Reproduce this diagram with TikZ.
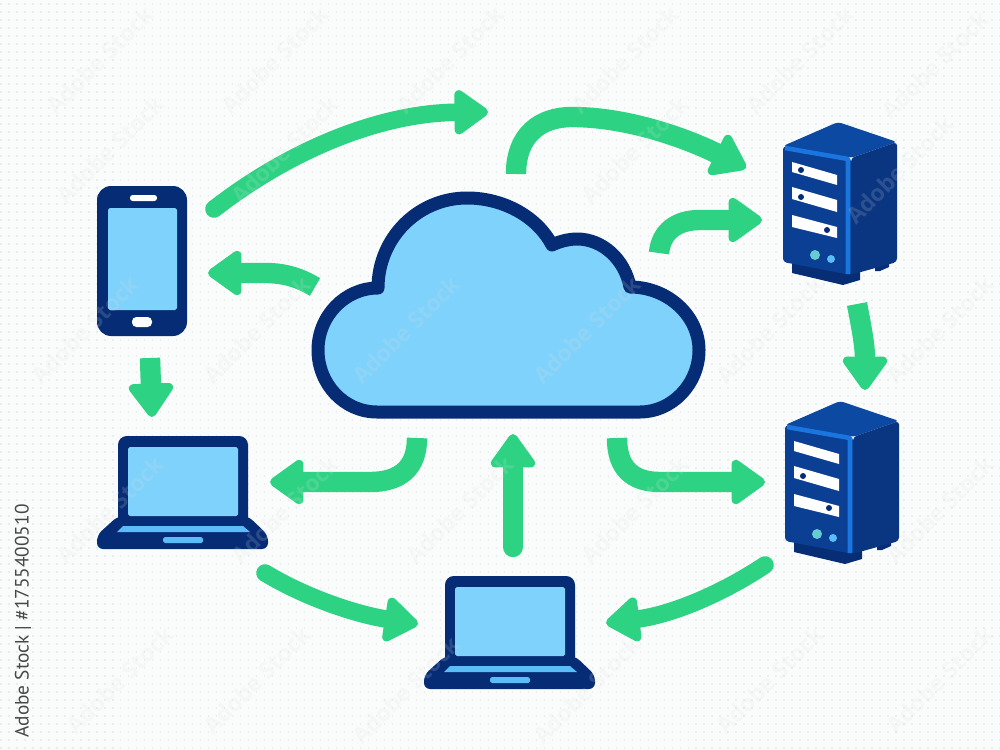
\documentclass[tikz,border=0pt]{standalone}
\usepackage{fontspec}
\setsansfont{Open Sans}
\newfontfamily\stockfont{PT Sans}
\usetikzlibrary{arrows.meta}
\definecolor{paperbg}{HTML}{FAFCFC}
\definecolor{dotgray}{HTML}{E8EDEF}
\definecolor{flowgreen}{HTML}{2DD383}
\definecolor{navy}{HTML}{052C74}
\definecolor{skyblue}{HTML}{7FD2FB}
\definecolor{keyblue}{HTML}{5BBCF8}
\definecolor{frontblue}{HTML}{0A3F94}
\definecolor{sideblue}{HTML}{0A3580}
\definecolor{topblue}{HTML}{0C49A2}
\definecolor{edgeblue}{HTML}{1A76DE}
\definecolor{footblue}{HTML}{072D75}

\tikzset{
    pics/laptop/.style={code={
        \fill[navy, rounded corners=5pt] (0,90) -- (0,0) -- (130,0) -- (130,90) -- cycle;
        \fill[navy, rounded corners=3.5pt] (0,80) -- (130,80) -- (150,99) -- (150,113) -- (-21,113) -- (-21,99) -- cycle;
        \fill[skyblue, rounded corners=1pt] (10,11) rectangle (120,80);
        \fill[keyblue] (-1,96) -- (5,90) -- (125,90) -- (132,96) -- cycle;
        \fill[keyblue, rounded corners=1pt] (45,101) rectangle (85,107);
    }},
    pics/server/.style={code={
        % feet
        \fill[footblue] (9,118) -- (9,127) -- (60,139) -- (77,134) -- (77,120) -- cycle;
        \fill[footblue] (92,118) -- (92,125) -- (97,125) -- (106,121) -- (106,115) -- cycle;
        % body
        \fill[topblue, rounded corners=2pt] (0,0) -- (55,-24) -- (114,-4) -- (68,12) -- cycle;
        \fill[sideblue, rounded corners=2pt] (68,12) -- (114,-4) -- (114,116) -- (67,129) -- cycle;
        \fill[frontblue, rounded corners=2pt] (0,0) -- (68,12) -- (68,129) -- (0,116) -- cycle;
        \draw[edgeblue, line width=2.6pt, line join=round] (2,2) -- (65,13) -- (65,128);
        % drive bays
        \fill[white] (9,16) -- (54,29) -- (54,39) -- (9,26) -- cycle;
        \fill[white] (9,41) -- (54,54) -- (54,66) -- (9,53) -- cycle;
        \fill[white] (9,69) -- (54,81) -- (54,92) -- (9,81) -- cycle;
        % lights
        \fill[cyan!70!green!60!white] (32,109) circle (5);
        \fill[keyblue] (48,113) circle (4);
    }}
}

\begin{document}
\begin{tikzpicture}[
    x=0.02cm, y=-0.02cm,
    dotrow/.style={dotgray, line width=0.9pt, dash pattern=on 0.9pt off 3.65pt},
    stockmark/.style={font=\sffamily\bfseries\fontsize{13}{13}\selectfont, rotate=45, text=gray!25!white, opacity=0.17},
    flow/.style={-{Triangle[length=21pt, width=28.5pt, line width=5pt, round]}, line width=11.6pt, flowgreen},
    thinflow/.style={-{Triangle[length=21pt, width=28.5pt, line width=5pt, round]}, line width=10pt, flowgreen, line cap=round},
    baydot/.style={navy},
]
    \useasboundingbox (0,0) rectangle (1000,750);
    \fill[paperbg] (0,0) rectangle (1000,750);

    % Dotted paper
    \foreach \y in {4,12,...,748} \draw[dotrow] (0,\y) -- (1000,\y);

    % Phone
    \fill[navy, rounded corners=8pt] (97,186) rectangle (187,336);
    \fill[skyblue, rounded corners=1pt] (108,208) rectangle (177,310);
    \fill[white, rounded corners=1.5pt] (130,195) rectangle (157,201);
    \fill[white, rounded corners=2.5pt] (132,317) rectangle (152,327);

    % Laptops
    \pic at (118,436) {laptop};
    \pic at (445,576) {laptop};

    % Servers
    \pic at (783,146) {server};
    \pic at (785,425) {server};
    \fill[baydot] (801,170) circle (3);
    \fill[baydot] (801,197) circle (3);
    \fill[baydot] (827,230) circle (3);
    \fill[baydot] (803,476) circle (3);
    \fill[baydot] (829,508) circle (3);

    % Cloud
    \draw[navy, fill=skyblue, line width=7.4pt, line join=round] (377,412)
        .. controls (344,412) and (318,384) .. (318,350)
        .. controls (318,316) and (345,288) .. (378,288)
        .. controls (378,238) and (418,198) .. (467,198)
        .. controls (505,198) and (538,218) .. (552,245)
        .. controls (560,241) and (570,239) .. (577,239)
        .. controls (603,239) and (625,260) .. (630,287)
        .. controls (668,287) and (699,316) .. (699,350)
        .. controls (699,384) and (672,412) .. (640,412) -- cycle;

    % Flow ends
    \coordinate (phoneout) at (214,209);
    \coordinate (phonein) at (208,273);
    \coordinate (topmid) at (488,112);
    \coordinate (cloudtop) at (516,174);
    \coordinate (serveratop) at (746,168);
    \coordinate (cloudne) at (659,253);
    \coordinate (serveramid) at (762,220);
    \coordinate (serverabot) at (857,304);
    \coordinate (serverbtop) at (865,390);
    \coordinate (cloudw) at (315,287);
    \coordinate (phonedown) at (150,358);
    \coordinate (laptoptop) at (152,417);
    \coordinate (cloudsw) at (417,438);
    \coordinate (laptopright) at (270,482);
    \coordinate (lowup) at (513,547);
    \coordinate (cloudbot) at (513,434);
    \coordinate (cloudse) at (617,438);
    \coordinate (serverbmid) at (765,482);
    \coordinate (laptoplow) at (265,573);
    \coordinate (lowleft) at (418,624);
    \coordinate (serverblow) at (765,565);
    \coordinate (lowright) at (606,623);

    % Arrows
    \draw[thinflow] (phoneout) .. controls (290,150) and (380,113) .. (topmid);
    \draw[flow] (cloudtop) .. controls (516,135) and (540,117) .. (572,117) .. controls (630,117) and (690,140) .. (serveratop);
    \draw[flow] (cloudne) .. controls (661,232) and (676,220) .. (700,220) -- (serveramid);
    \draw[flow] (serverabot) .. controls (861,325) and (865,345) .. (serverbtop);
    \draw[flow] (cloudw) .. controls (300,278) and (285,273) .. (265,273) -- (phonein);
    \draw[flow] (phonedown) -- (laptoptop);
    \draw[flow] (cloudsw) .. controls (417,468) and (400,482) .. (370,482) -- (laptopright);
    \draw[flow, line cap=round] (lowup) -- (cloudbot);
    \draw[flow] (cloudse) .. controls (617,468) and (632,482) .. (660,482) -- (serverbmid);
    \draw[thinflow] (laptoplow) .. controls (310,600) and (360,615) .. (lowleft);
    \draw[thinflow] (serverblow) .. controls (720,595) and (670,615) .. (lowright);

    % Watermark
    \foreach \x/\y [count=\n] in {100/60, 275/60, 450/60, 625/60, 800/60, 935/65,
        110/150, 285/150, 635/150, 900/170,
        85/330, 257/330, 406/330, 587/330, 770/330, 940/330,
        110/510, 285/510, 460/510, 635/510, 940/510,
        120/680, 257/680, 406/690, 587/690, 770/680, 940/680}
        \node[stockmark] (mark\n) at (\x,\y) {Adobe Stock};

    % Stock number
    \node[rotate=90, font=\stockfont\fontsize{11}{12}\selectfont, text=black!72] (stockno) at (23,621) {Adobe Stock | \#1755400510};
\end{tikzpicture}
\end{document}
